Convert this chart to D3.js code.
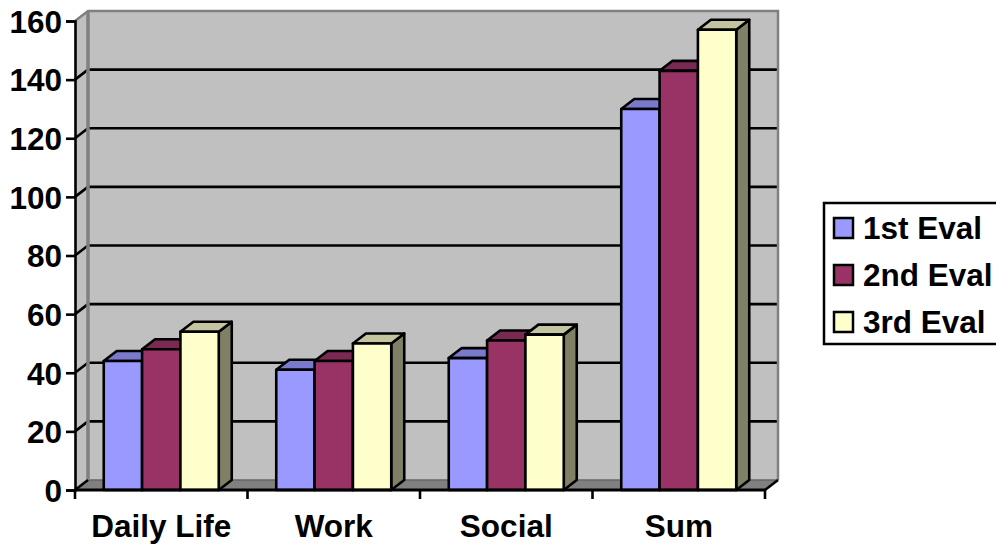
<!DOCTYPE html>
<html>
<head>
<meta charset="utf-8">
<script src="https://cdn.jsdelivr.net/npm/d3@7"></script>
<style>
  html, body { margin: 0; padding: 0; background: #fff; }
  svg { display: block; }
  text { font-family: "Liberation Sans", Arial, sans-serif; font-weight: bold; fill: #000; }
</style>
</head>
<body>
<div id="chart"></div>
<script>
const categories = ["Daily Life", "Work", "Social", "Sum"];
const seriesNames = ["1st Eval", "2nd Eval", "3rd Eval"];
const eval1 = [44, 41, 45, 130];
const eval2 = [48, 44, 51, 143];
const eval3 = [54, 50, 53, 157];
const seriesValues = [eval1, eval2, eval3];
const yTicks = [0, 20, 40, 60, 80, 100, 120, 140, 160];

// front/top/side colours per series
const FRONT = ["#9999ff", "#993366", "#ffffcc"];
const TOP = ["#7a7acc", "#7a2952", "#c4c4a0"];
const SIDE = ["#6b6bb3", "#6b2447", "#808066"];

const width = 996;
const height = 545;

const LEFT = 75;
const RIGHT = 765;
const BOTTOM = 490;
const TOP_Y = 21;
const DX = 13; // depth of the 3d box
const DY = -10;

const WALL = "#c0c0c0";
const FLOOR = "#808080";
const EDGE = "#808080";
const LINE_W = 2.6;

const svg = d3.select("#chart").append("svg")
  .attr("width", width)
  .attr("height", height);

const y = d3.scaleLinear().domain([0, 160]).range([BOTTOM, TOP_Y]);
const x0 = d3.scaleBand().domain(categories).range([LEFT, RIGHT])
  .paddingInner(1 / 3).paddingOuter(1 / 6);
const x1 = d3.scaleBand().domain(seriesNames).range([0, x0.bandwidth()]);

const poly = (pts) => pts.map((p) => p.join(",")).join(" ");

// side wall
svg.append("polygon")
  .attr("points", poly([[LEFT, BOTTOM], [LEFT, TOP_Y], [LEFT + DX, TOP_Y + DY], [LEFT + DX, BOTTOM + DY]]))
  .attr("fill", WALL);

// back wall
svg.append("rect")
  .attr("x", LEFT + DX).attr("y", TOP_Y + DY)
  .attr("width", RIGHT - LEFT).attr("height", BOTTOM - TOP_Y)
  .attr("fill", WALL);

// floor
svg.append("polygon")
  .attr("points", poly([[LEFT, BOTTOM], [RIGHT, BOTTOM], [RIGHT + DX, BOTTOM + DY], [LEFT + DX, BOTTOM + DY]]))
  .attr("fill", FLOOR);
svg.append("line")
  .attr("x1", LEFT + DX).attr("x2", RIGHT + DX)
  .attr("y1", BOTTOM + DY).attr("y2", BOTTOM + DY)
  .attr("stroke", "#666").attr("stroke-width", 1.5);

// grid lines on the back wall and their diagonals on the side wall
const inner = yTicks.filter((d) => d > 0 && d < 160);
const grid = svg.append("g").attr("stroke", "#000").attr("stroke-width", LINE_W);
inner.forEach((d) => {
  grid.append("line")
    .attr("x1", LEFT + DX).attr("x2", RIGHT + DX)
    .attr("y1", y(d) + DY).attr("y2", y(d) + DY);
  grid.append("line")
    .attr("x1", LEFT).attr("x2", LEFT + DX)
    .attr("y1", y(d)).attr("y2", y(d) + DY);
});

// wall edges
svg.append("polyline")
  .attr("points", poly([
    [LEFT, TOP_Y], [LEFT + DX, TOP_Y + DY], [RIGHT + DX, TOP_Y + DY], [RIGHT + DX, BOTTOM + DY]
  ]))
  .attr("fill", "none").attr("stroke", EDGE).attr("stroke-width", 2.5);
svg.append("line")
  .attr("x1", LEFT + DX).attr("x2", LEFT + DX)
  .attr("y1", TOP_Y + DY).attr("y2", BOTTOM + DY)
  .attr("stroke", EDGE).attr("stroke-width", 3.5);

// bars, drawn left to right so the neighbours cover the hidden sides
const bars = svg.append("g")
  .attr("stroke", "#000").attr("stroke-width", LINE_W).attr("stroke-linejoin", "round");
categories.forEach((cat, c) => {
  seriesNames.forEach((name, s) => {
    const v = seriesValues[s][c];
    const xa = x0(cat) + x1(name);
    const xb = xa + x1.bandwidth();
    const yt = y(v);
    bars.append("polygon")
      .attr("points", poly([[xb, yt], [xb + DX, yt + DY], [xb + DX, BOTTOM + DY], [xb, BOTTOM]]))
      .attr("fill", SIDE[s]);
    bars.append("polygon")
      .attr("points", poly([[xa, yt], [xa + DX, yt + DY], [xb + DX, yt + DY], [xb, yt]]))
      .attr("fill", TOP[s]);
    bars.append("rect")
      .attr("x", xa).attr("y", yt)
      .attr("width", x1.bandwidth()).attr("height", BOTTOM - yt)
      .attr("fill", FRONT[s]);
  });
});

// y axis
const yAxis = svg.append("g")
  .attr("transform", `translate(${LEFT},0)`)
  .call(d3.axisLeft(y).tickValues(yTicks).tickSize(9).tickPadding(4).tickFormat(d3.format("d")));
yAxis.selectAll("path").attr("stroke", "#000").attr("stroke-width", LINE_W);
yAxis.selectAll("line").attr("stroke", "#000").attr("stroke-width", LINE_W);
yAxis.selectAll("text").style("font-size", "31.5px").attr("dy", "0.36em");

// x axis: ticks sit on the category boundaries, only the outer two run back to the wall
const step = x0.step();
const xAxisLine = svg.append("g").attr("stroke", "#000").attr("stroke-width", LINE_W);
d3.range(categories.length + 1).forEach((i) => {
  const tx = LEFT + i * step;
  xAxisLine.append("line")
    .attr("x1", tx).attr("x2", tx)
    .attr("y1", BOTTOM).attr("y2", BOTTOM + 9);
});
[LEFT, RIGHT].forEach((tx) => {
  xAxisLine.append("line")
    .attr("x1", tx).attr("x2", tx + DX)
    .attr("y1", BOTTOM).attr("y2", BOTTOM + DY);
});
xAxisLine.append("line")
  .attr("x1", LEFT).attr("x2", RIGHT)
  .attr("y1", BOTTOM).attr("y2", BOTTOM)
  .attr("stroke-width", 3);
const xAxis = svg.append("g")
  .attr("transform", `translate(0,${BOTTOM})`)
  .call(d3.axisBottom(x0).tickSize(0).tickPadding(25));
xAxis.select("path").remove();
xAxis.selectAll("text").style("font-size", "31.5px");

// legend
const legend = svg.append("g");
legend.append("rect")
  .attr("x", 824).attr("y", 203)
  .attr("width", 180).attr("height", 141)
  .attr("fill", "#fff").attr("stroke", "#000").attr("stroke-width", 2.5);
const legendY = d3.scalePoint().domain(seriesNames).range([228, 322]);
seriesNames.forEach((name, s) => {
  legend.append("rect")
    .attr("x", 834).attr("y", legendY(name) - 10)
    .attr("width", 19).attr("height", 20)
    .attr("fill", FRONT[s]).attr("stroke", "#000").attr("stroke-width", 2.5);
  legend.append("text")
    .attr("x", 863).attr("y", legendY(name))
    .attr("dy", "0.36em")
    .style("font-size", "31.5px")
    .text(name);
});
</script>
</body>
</html>
